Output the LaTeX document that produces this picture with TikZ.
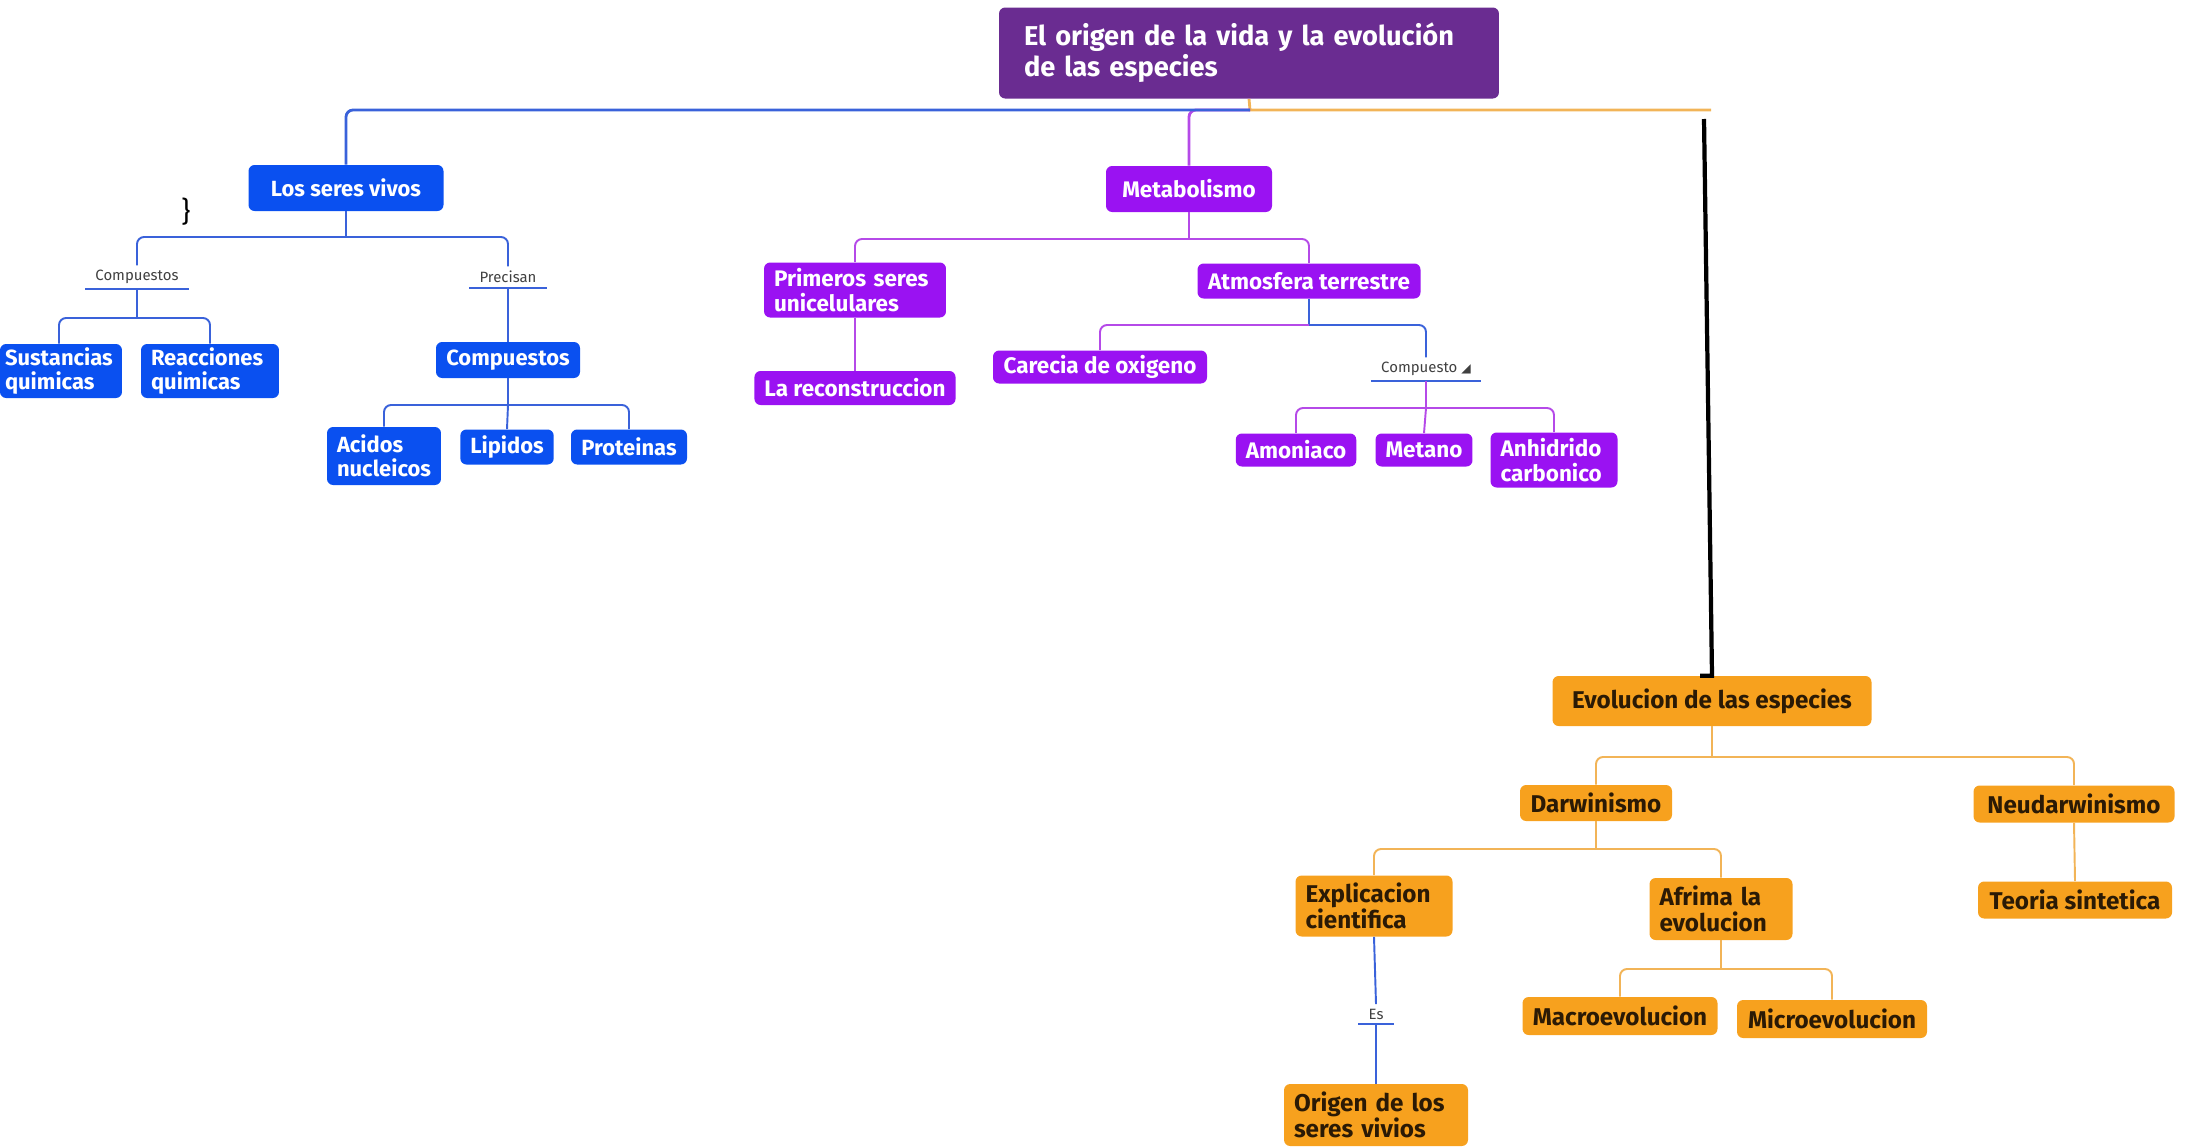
\documentclass[tikz,border=0pt]{standalone}
\usepackage{fontspec}
\setmainfont{Fira Sans}
\newfontfamily\dejavu{DejaVu Sans}
\definecolor{cblue}{HTML}{0A50F0}
\definecolor{cpurp}{HTML}{9A12F2}
\definecolor{corng}{HTML}{F7A11E}
\definecolor{ctitle}{HTML}{6A2C91}
\definecolor{lblue}{HTML}{3A62DA}
\definecolor{lpurp}{HTML}{B54AE8}
\definecolor{lorng}{HTML}{F2B457}
\definecolor{otext}{HTML}{2B1A05}
\tikzset{
  bx/.style={rounded corners=3.5pt, inner xsep=0.2cm, inner ysep=0pt},
  bw/.style={minimum width=#1*0.02cm},
  bh/.style={minimum height=#1*0.02cm},
  bnode/.style={bx, fill=cblue, text=white, font=\fontsize{12.5}{13.5}\selectfont\bfseries},
  pnode/.style={bx, fill=cpurp, text=white, font=\fontsize{12.8}{13.8}\selectfont\bfseries},
  onode/.style={bx, fill=corng, text=otext, font=\fontsize{13.8}{15}\selectfont\bfseries},
  lbl/.style={inner xsep=0.2cm, inner ysep=2.5pt, font=\fontsize{8.5}{10}\selectfont, text=black!75},
  cb/.style={draw=lblue, line width=1.1pt, rounded corners=4pt},
  cp/.style={draw=lpurp, line width=1.1pt, rounded corners=4pt},
  co/.style={draw=lorng, line width=1.1pt, rounded corners=4pt},
}
\begin{document}
\begin{tikzpicture}[x=0.02cm,y=-0.02cm]
\useasboundingbox (0,0) rectangle (2190,1146);
% title
\node[bx, fill=ctitle, text=white, bh=91, inner xsep=0.5cm, text width=9cm, align=left,
  font=\fontsize{15.5}{17.5}\selectfont\bfseries] (title) at (1249,53)
  {El origen de la vida y la evolución\\de las especies};
% blue branch
\node[bnode, bw=195, bh=46] (los) at (346,188) {Los seres vivos};
\node[font=\fontsize{16}{16}\selectfont] (brace) at (186,212) {\}};
\node[lbl] (lc) at (137,277) {Compuestos};
\node[lbl] (lp) at (508,277) {Precisan};
\node[bnode, bh=54, text width=2.24cm, align=left, inner xsep=0.1cm] (sust) at (61,371) {Sustancias\\quimicas};
\node[bnode, bh=54, text width=2.36cm, align=left] (reac) at (210,371) {Reacciones\\quimicas};
\node[bnode, bw=144, bh=36] (comp) at (508,360) {Compuestos};
\node[bnode, bh=58, text width=1.88cm, align=left] (acid) at (384,456) {Acidos\\nucleicos};
\node[bnode, bw=92, bh=35] (lip) at (507,447) {Lipidos};
\node[bnode, bw=116, bh=35] (prot) at (629,447) {Proteinas};
% purple branch
\node[pnode, bw=166, bh=46] (meta) at (1189,189) {Metabolismo};
\node[pnode, bh=55, text width=3.24cm, align=left] (prim) at (855,290) {Primeros seres\\unicelulares};
\node[pnode, bw=223, bh=35] (atm) at (1309,281) {Atmosfera terrestre};
\node[pnode, bw=199, bh=34] (recon) at (855,388) {La reconstruccion};
\node[pnode, bw=214, bh=33] (care) at (1100,367) {Carecia de oxigeno};
\node[lbl] (lc2) at (1426,369) {Compuesto {\dejavu\fontsize{7}{8}\selectfont ◢}};
\node[pnode, bw=120, bh=33] (amon) at (1296,450) {Amoniaco};
\node[pnode, bw=94, bh=33] (metano) at (1424,450) {Metano};
\node[pnode, bh=55, text width=2.14cm, align=left] (anh) at (1554,460) {Anhidrido\\carbonico};
% orange branch
\node[onode, bw=319, bh=50] (evo) at (1712,701) {Evolucion de las especies};
\node[onode, bw=152, bh=36] (darw) at (1596,803) {Darwinismo};
\node[onode, bw=201, bh=37] (neud) at (2074,804) {Neudarwinismo};
\node[onode, bw=194, bh=37] (teor) at (2075,900) {Teoria sintetica};
\node[onode, bh=61, text width=2.74cm, align=left] (expl) at (1374,906) {Explicacion\\cientifica};
\node[onode, bh=62, text width=2.46cm, align=left] (afri) at (1721,909) {Afrima la\\evolucion};
\node[onode, bw=195, bh=38] (macro) at (1620,1016) {Macroevolucion};
\node[onode, bw=190, bh=38] (micro) at (1832,1019) {Microevolucion};
\node[lbl] (les) at (1376,1014) {Es};
\node[onode, bh=62, text width=3.28cm, align=left] (orig) at (1376,1115) {Origen de los\\seres vivios};
% bus coordinates
\coordinate (top) at (1250,110);
\coordinate (topend) at (1711,110);
\coordinate (blk) at (1704,119);
\coordinate (b1) at (0,237);
\coordinate (b2) at (0,318);
\coordinate (b3) at (0,405);
\coordinate (b4) at (0,239);
\coordinate (b5) at (0,325);
\coordinate (b6) at (0,408);
\coordinate (b7) at (0,757);
\coordinate (b8) at (0,849);
\coordinate (b9) at (0,969);
% top connectors
\draw[co, line width=1.6pt, rounded corners=0pt] (title.south) -- (top) -- (topend);
\draw[cp, line width=1.6pt] (top) -| (meta.north);
\draw[cb, line width=1.6pt] (top) -| (los.north);
\draw[black, line width=2.4pt] (blk) -- (evo.north) -- ++(-12,0);
% blue tree
\draw[cb] (los.south) -- (los.south |- b1);
\draw[cb] (los.south |- b1) -| (lc.north);
\draw[cb] (los.south |- b1) -| (lp.north);
\draw[cb, rounded corners=0pt] (lc.south west) -- (lc.south east);
\draw[cb, rounded corners=0pt] (lp.south west) -- (lp.south east);
\draw[cb] (lc.south) -- (lc.south |- b2);
\draw[cb] (lc.south |- b2) -| ([xshift=-2*0.02cm]sust.north);
\draw[cb] (lc.south |- b2) -| (reac.north);
\draw[cb] (lp.south) -- (comp.north);
\draw[cb] (comp.south) -- (comp.south |- b3);
\draw[cb] (comp.south |- b3) -| (acid.north);
\draw[cb] (comp.south |- b3) -- (lip.north);
\draw[cb] (comp.south |- b3) -| (prot.north);
% purple tree
\draw[cp] (meta.south) -- (meta.south |- b4);
\draw[cp] (meta.south |- b4) -| (prim.north);
\draw[cp] (meta.south |- b4) -| (atm.north);
\draw[cp] (prim.south) -- (recon.north);
\draw[cb] (atm.south) -- (atm.south |- b5);
\draw[cp] (atm.south |- b5) -| (care.north);
\draw[cb] (atm.south |- b5) -| (lc2.north);
\draw[cb, rounded corners=0pt] (lc2.south west) -- (lc2.south east);
\draw[cp] (lc2.south) -- (lc2.south |- b6);
\draw[cp] (lc2.south |- b6) -| (amon.north);
\draw[cp] (lc2.south |- b6) -- (metano.north);
\draw[cp] (lc2.south |- b6) -| (anh.north);
% orange tree
\draw[co] (evo.south) -- (evo.south |- b7);
\draw[co] (evo.south |- b7) -| (darw.north);
\draw[co] (evo.south |- b7) -| (neud.north);
\draw[co] (neud.south) -- (teor.north);
\draw[co] (darw.south) -- (darw.south |- b8);
\draw[co] (darw.south |- b8) -| (expl.north);
\draw[co] (darw.south |- b8) -| (afri.north);
\draw[co] (afri.south) -- (afri.south |- b9);
\draw[co] (afri.south |- b9) -| (macro.north);
\draw[co] (afri.south |- b9) -| (micro.north);
\draw[cb] (expl.south) -- (les.north);
\draw[cb, rounded corners=0pt] (les.south west) -- (les.south east);
\draw[cb] (les.south) -- (orig.north);
\end{tikzpicture}
\end{document}
